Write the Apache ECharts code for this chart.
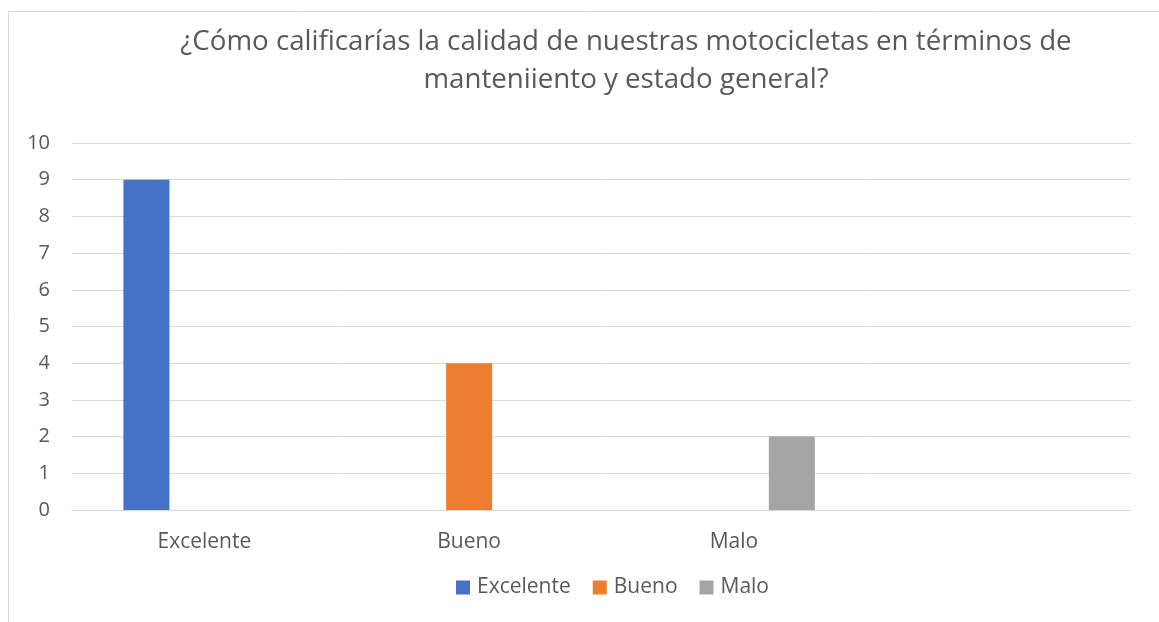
<!DOCTYPE html>
<html>
<head>
<meta charset="utf-8">
<script src="https://cdn.jsdelivr.net/npm/echarts@6/dist/echarts.min.js"></script>
<style>
  html, body { margin: 0; padding: 0; background: #fff; }
  #chart { width: 1159px; height: 622px; }
</style>
</head>
<body>
<div id="chart"></div>
<script>
// Categories on the x axis (the fourth slot is empty in the original sheet)
const categories = ['Excelente', 'Bueno', 'Malo', ''];
const seriesNames = ['Excelente', 'Bueno', 'Malo'];
const excelenteValues = [9, 0, 0, null];
const buenoValues = [0, 4, 0, null];
const maloValues = [0, 0, 2, null];
const yTicks = { min: 0, max: 10, interval: 1 };

const titleText = '¿Cómo calificarías la calidad de nuestras motocicletas en términos de\nmanteniiento y estado general?';

const colors = ['#4472C4', '#ED7D31', '#A5A5A5'];
const textColor = '#595959';
const gridColor = '#D9D9D9';
const font = 'Open Sans';

const chart = echarts.init(document.getElementById('chart'));

const seriesValues = [excelenteValues, buenoValues, maloValues];

chart.setOption({
    backgroundColor: '#fff',
    animation: false,
    color: colors,
    title: {
        text: titleText,
        left: 621,
        top: 18,
        textAlign: 'center',
        textStyle: {
            fontFamily: font,
            fontSize: 27.7,
            fontWeight: 'normal',
            color: textColor,
            lineHeight: 38,
        },
    },
    // thin chart-area border seen at the top/left of the screenshot
    graphic: [
        {
            type: 'rect',
            shape: { x: 8.5, y: 11.5, width: 1200, height: 700 },
            style: { fill: 'none', stroke: gridColor, lineWidth: 1 },
            silent: true,
        },
    ],
    legend: {
        data: seriesNames,
        left: 451,
        top: 572,
        icon: 'rect',
        itemWidth: 14,
        itemHeight: 14,
        itemGap: 22,
        textStyle: { fontFamily: font, fontSize: 21, color: textColor, padding: [0, 0, 0, 2] },
    },
    grid: { left: 72, right: 28, top: 143, bottom: 112, containLabel: false },
    xAxis: {
        type: 'category',
        data: categories,
        axisLine: { show: true, lineStyle: { color: gridColor, width: 1 } },
        axisTick: { show: false },
        axisLabel: { fontFamily: font, fontSize: 21, color: textColor, margin: 22 },
    },
    yAxis: {
        type: 'value',
        min: yTicks.min,
        max: yTicks.max,
        interval: yTicks.interval,
        axisLine: { show: false },
        axisTick: { show: false },
        axisLabel: { fontFamily: font, fontSize: 20, color: textColor, margin: 22 },
        splitLine: { lineStyle: { color: gridColor, width: 1 } },
    },
    series: seriesNames.map((name, i) => ({
        name,
        type: 'bar',
        data: seriesValues[i],
        barWidth: 46,
        barGap: '26%',
        itemStyle: { color: colors[i] },
    })),
});
</script>
</body>
</html>
